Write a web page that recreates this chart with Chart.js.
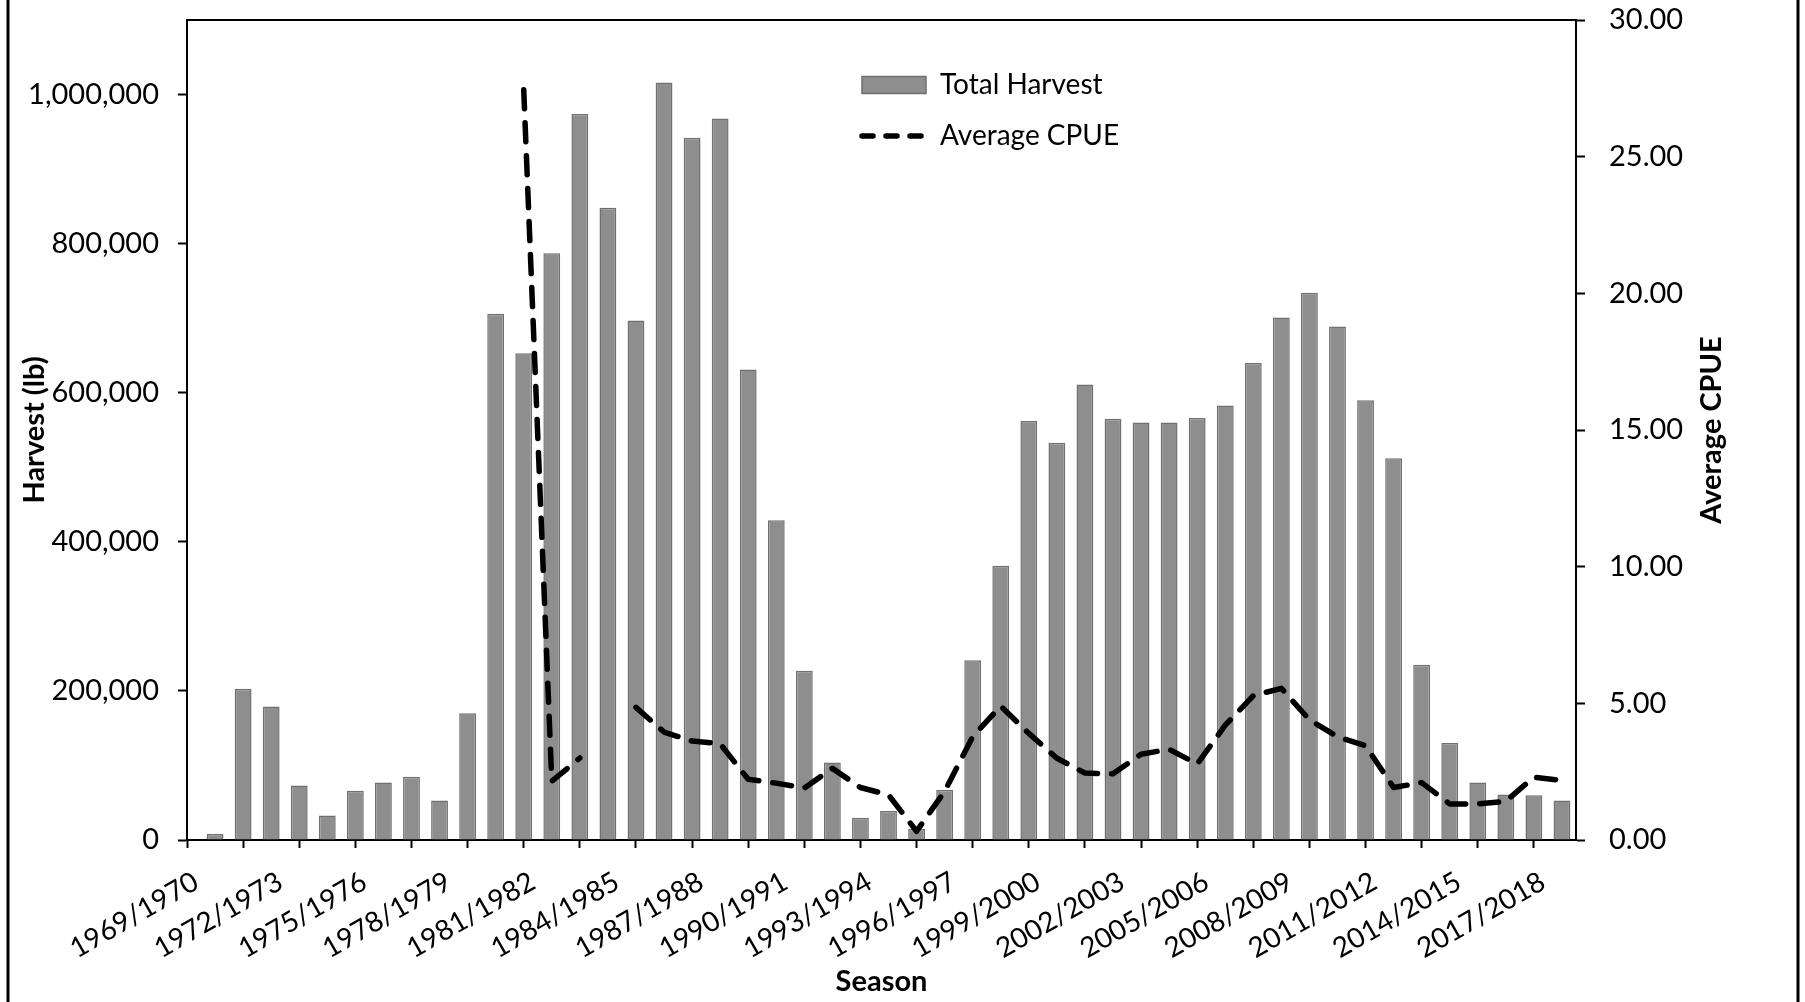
<!DOCTYPE html>
<html>
<head>
<meta charset="utf-8">
<script src="https://cdn.jsdelivr.net/npm/chart.js@4"></script>
<style>
  html, body { margin: 0; padding: 0; background: #fff; }
  #wrap { width: 1805px; height: 1002px; }
</style>
</head>
<body>
<div id="wrap"><canvas id="c" width="1805" height="1002"></canvas></div>
<script>
const seasons = [
  '1969/1970','1970/1971','1971/1972','1972/1973','1973/1974','1974/1975','1975/1976','1976/1977','1977/1978','1978/1979',
  '1979/1980','1980/1981','1981/1982','1982/1983','1983/1984','1984/1985','1985/1986','1986/1987','1987/1988','1988/1989',
  '1989/1990','1990/1991','1991/1992','1992/1993','1993/1994','1994/1995','1995/1996','1996/1997','1997/1998','1998/1999',
  '1999/2000','2000/2001','2001/2002','2002/2003','2003/2004','2004/2005','2005/2006','2006/2007','2007/2008','2008/2009',
  '2009/2010','2010/2011','2011/2012','2012/2013','2013/2014','2014/2015','2015/2016','2016/2017','2017/2018','2018/2019'
];
const totalHarvest = [
  null, 8000, 203000, 179000, 73000, 33000, 66000, 77000, 85000, 53000,
  170000, 706000, 653000, 787000, 974000, 848000, 697000, 1016000, 942000, 968000,
  631000, 429000, 227000, 104000, 30000, 39000, 15000, 67000, 241000, 368000,
  562000, 533000, 611000, 565000, 560000, 560000, 566000, 583000, 640000, 701000,
  734000, 689000, 590000, 512000, 235000, 130000, 77000, 61000, 60000, 53000
];
const averageCPUE = [
  null, null, null, null, null, null, null, null, null, null,
  null, null, 27.45, 2.15, 3.0, null, 4.85, 3.95, 3.62, 3.52,
  2.22, 2.08, 1.9, 2.62, 1.92, 1.65, 0.32, 1.78, 3.78, 4.9,
  3.9, 2.99, 2.45, 2.42, 3.14, 3.32, 2.78, 4.2, 5.28, 5.55,
  4.4, 3.78, 3.45, 1.92, 2.1, 1.32, 1.32, 1.42, 2.3, 2.18
];
const harvestTickValues = [0, 200000, 400000, 600000, 800000, 1000000];
const harvestMax = 1100000;
const cpueTickValues = [0, 5, 10, 15, 20, 25, 30];
const labelEvery = 3;
const tickMarkEvery = 2;
const leftTitle = 'Harvest (lb)';
const rightTitle = 'Average CPUE';
const bottomTitle = 'Season';

const harvestPoints = totalHarvest.map((v, i) => ({ x: i, y: v }));
const cpuePoints = averageCPUE.map((v, i) => ({ x: i, y: v }));

const FONT = 'Lato, "Open Sans", sans-serif';
Chart.defaults.font.family = FONT;
Chart.defaults.color = '#000';

function noScalePadding(scale) {
  scale.paddingTop = 0;
  scale.paddingBottom = 0;
  scale.paddingLeft = 0;
  scale.paddingRight = 0;
}

const framePlugin = {
  id: 'frame',
  afterDraw(chart) {
    const { ctx, chartArea: a } = chart;
    ctx.save();
    ctx.strokeStyle = '#000';
    ctx.lineWidth = 2;
    ctx.beginPath();
    ctx.moveTo(a.left - 1, a.top);
    ctx.lineTo(a.right + 1, a.top);
    ctx.stroke();
    ctx.lineWidth = 3;
    ctx.beginPath();
    ctx.moveTo(8, 0); ctx.lineTo(8, chart.height);
    ctx.moveTo(1798, 0); ctx.lineTo(1798, chart.height);
    ctx.stroke();
    // right axis title, reading bottom-to-top as in the reference
    ctx.fillStyle = '#000';
    ctx.font = 'bold 29px ' + FONT;
    ctx.textAlign = 'center';
    ctx.textBaseline = 'middle';
    ctx.translate(1712, (a.top + a.bottom) / 2);
    ctx.rotate(-Math.PI / 2);
    ctx.fillText(rightTitle, 0, 0);
    ctx.restore();
  }
};

const legendPlace = {
  id: 'legendPlace',
  afterLayout(chart) {
    const lg = chart.legend;
    if (!lg) return;
    const pad = lg.options.labels.padding;
    lg.left = 862 - pad;
    lg.top = 71 - pad;
    lg.width = 420;
    lg.height = 170;
    lg.right = lg.left + lg.width;
    lg.bottom = lg.top + lg.height;
  }
};

new Chart(document.getElementById('c'), {
  data: {
    datasets: [
      {
        type: 'bar',
        label: 'Total Harvest',
        data: harvestPoints,
        backgroundColor: '#8e8e8e',
        borderColor: '#707070',
        borderWidth: 1.5,
        barPercentage: 0.6,
        categoryPercentage: 1,
        xAxisID: 'x',
        yAxisID: 'y',
        order: 2
      },
      {
        type: 'line',
        label: 'Average CPUE',
        data: cpuePoints,
        borderColor: '#000',
        backgroundColor: '#000',
        borderWidth: 5.5,
        borderDash: [19, 14],
        borderCapStyle: 'round',
        borderJoinStyle: 'round',
        pointRadius: 0,
        tension: 0,
        spanGaps: false,
        fill: false,
        xAxisID: 'x',
        yAxisID: 'y1',
        order: 1
      }
    ]
  },
  options: {
    responsive: false,
    animation: false,
    devicePixelRatio: 1,
    layout: { padding: { top: 20, left: 0, right: 0, bottom: 0 } },
    plugins: {
      tooltip: { enabled: false },
      legend: {
        position: 'chartArea',
        align: 'start',
        labels: {
          usePointStyle: true,
          pointStyleWidth: 64,
          boxHeight: 17,
          padding: 23,
          color: '#000',
          font: { size: 28 },
          sort: (a, b) => a.datasetIndex - b.datasetIndex,
          generateLabels(chart) {
            const items = Chart.defaults.plugins.legend.labels.generateLabels(chart);
            items.forEach((it) => {
              const ds = chart.data.datasets[it.datasetIndex];
              if (ds.type === 'line') {
                it.pointStyle = 'line';
                it.lineWidth = ds.borderWidth;
                it.lineCap = 'round';
                it.lineDash = [11, 13];
                it.strokeStyle = ds.borderColor;
              } else {
                it.pointStyle = 'rect';
                it.lineWidth = ds.borderWidth;
                it.fillStyle = ds.backgroundColor;
                it.strokeStyle = ds.borderColor;
              }
            });
            return items;
          }
        }
      }
    },
    scales: {
      x: {
        type: 'linear',
        position: 'bottom',
        offset: false,
        min: 0,
        max: 49.5,
        afterFit(scale) { scale.height = 162; noScalePadding(scale); },
        border: { display: true, color: '#000', width: 2 },
        grid: {
          offset: false,
          drawOnChartArea: false,
          drawTicks: true,
          tickLength: 8,
          tickWidth: 2,
          tickColor: (ctx) => (ctx.tick && ctx.tick.value % tickMarkEvery === 0) ? '#000' : 'rgba(0,0,0,0)'
        },
        ticks: {
          stepSize: 1,
          autoSkip: false,
          includeBounds: false,
          minRotation: 30,
          maxRotation: 30,
          padding: 17,
          labelOffset: 9,
          font: { size: 28 },
          callback: (v) => (Number.isInteger(v) && v % labelEvery === 0 && seasons[v]) ? seasons[v] : ''
        },
        title: {
          display: true,
          text: bottomTitle,
          font: { size: 29, weight: 'bold' },
          padding: { top: 0, bottom: 3 }
        }
      },
      y: {
        type: 'linear',
        position: 'left',
        min: 0,
        max: harvestMax,
        afterFit(scale) { scale.width = 187; noScalePadding(scale); },
        afterBuildTicks(scale) { scale.ticks = harvestTickValues.map((v) => ({ value: v })); },
        border: { display: true, color: '#000', width: 2 },
        grid: { drawOnChartArea: false, drawTicks: true, tickLength: 9, tickWidth: 2, tickColor: '#000' },
        ticks: {
          padding: 19,
          font: { size: 29 },
          callback: (v) => Number(v).toLocaleString('en-US')
        },
        title: {
          display: true,
          text: leftTitle,
          font: { size: 29, weight: 'bold' },
          padding: { top: 17, bottom: 0 }
        }
      },
      y1: {
        type: 'linear',
        position: 'right',
        min: cpueTickValues[0],
        max: cpueTickValues[cpueTickValues.length - 1],
        afterFit(scale) { scale.width = 229; noScalePadding(scale); },
        afterBuildTicks(scale) { scale.ticks = cpueTickValues.map((v) => ({ value: v })); },
        border: { display: true, color: '#000', width: 2 },
        grid: { drawOnChartArea: false, drawTicks: true, tickLength: 9, tickWidth: 2, tickColor: '#000' },
        ticks: {
          padding: 24,
          font: { size: 29 },
          callback: (v) => Number(v).toFixed(2)
        },
        title: { display: false, text: rightTitle }
      }
    }
  },
  plugins: [legendPlace, framePlugin]
});
</script>
</body>
</html>
